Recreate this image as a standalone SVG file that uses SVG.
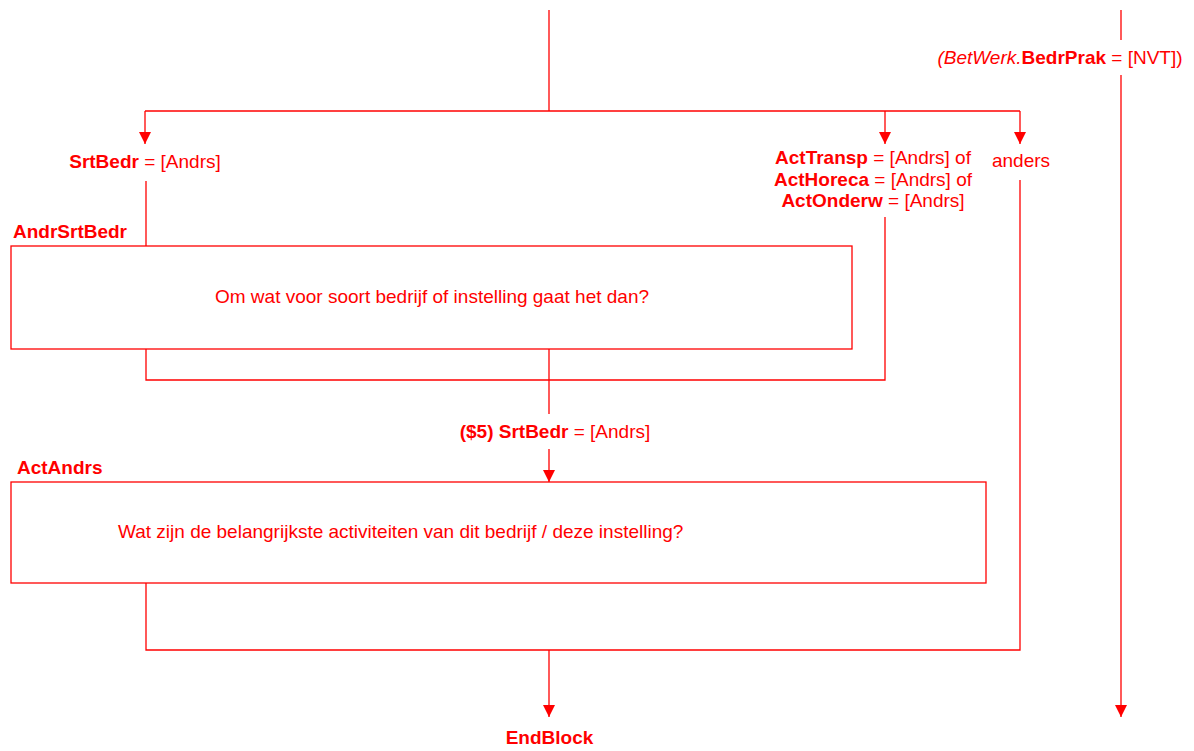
<svg xmlns="http://www.w3.org/2000/svg" width="1194" height="751" viewBox="0 0 1194 751">
<defs>
<marker id="ah" markerWidth="12" markerHeight="12" viewBox="0 0 12 12" refX="12" refY="6" orient="auto" markerUnits="userSpaceOnUse">
<path d="M0,0 L12,6 L0,12 Z" fill="#ff0000"/>
</marker>
<style>
.ln{stroke:#ff0000;stroke-width:1.3;fill:none}
.bx{stroke:#ff0000;stroke-width:1.3;fill:#ffffff}
text{font-family:"Liberation Sans",Arial,sans-serif;font-size:19px;fill:#ff0000}
.b{font-weight:bold}
.i{font-style:italic}
</style>
</defs>
<rect width="1194" height="751" fill="#ffffff"/>
<g id="connectors">
<path class="ln" d="M549,10 V111"/>
<path class="ln" d="M145,111 H1020"/>
<path class="ln" d="M145,111 V144" marker-end="url(#ah)"/>
<path class="ln" d="M885,111 V144" marker-end="url(#ah)"/>
<path class="ln" d="M1020,111 V144" marker-end="url(#ah)"/>
<path class="ln" d="M1121,10 V40"/>
<path class="ln" d="M1121,75 V717" marker-end="url(#ah)"/>
<path class="ln" d="M146,181 V246"/>
<path class="ln" d="M885,217 V380 H146 V349"/>
<path class="ln" d="M549,349 V414"/>
<path class="ln" d="M549,449 V482" marker-end="url(#ah)"/>
<path class="ln" d="M1020,180 V650 H146 V583"/>
<path class="ln" d="M549,650 V717" marker-end="url(#ah)"/>
</g>
<g id="cond-nvt"><text x="1060" y="64" text-anchor="middle"><tspan class="i">(BetWerk.</tspan><tspan class="b">BedrPrak</tspan> = [NVT])</text></g>
<g id="cond-srtbedr"><text x="145" y="168" text-anchor="middle"><tspan class="b">SrtBedr</tspan> = [Andrs]</text></g>
<g id="cond-act">
<text x="873" y="164" text-anchor="middle"><tspan class="b">ActTransp</tspan> = [Andrs] of</text>
<text x="873" y="185.5" text-anchor="middle"><tspan class="b">ActHoreca</tspan> = [Andrs] of</text>
<text x="873" y="207" text-anchor="middle"><tspan class="b">ActOnderw</tspan> = [Andrs]</text>
</g>
<g id="cond-anders"><text x="1021" y="167" text-anchor="middle">anders</text></g>
<g id="AndrSrtBedr">
<text x="13" y="238" class="b">AndrSrtBedr</text>
<rect class="bx" x="11" y="246" width="841" height="103"/>
<text x="432" y="303" text-anchor="middle">Om wat voor soort bedrijf of instelling gaat het dan?</text>
</g>
<g id="cond-5"><text x="555" y="438" text-anchor="middle"><tspan class="b">($5) SrtBedr</tspan> = [Andrs]</text></g>
<g id="ActAndrs">
<text x="17" y="474" class="b">ActAndrs</text>
<rect class="bx" x="11" y="482" width="975" height="101"/>
<text x="118" y="538">Wat zijn de belangrijkste activiteiten van dit bedrijf / deze instelling?</text>
</g>
<g id="EndBlock"><text x="549.5" y="744" text-anchor="middle" class="b">EndBlock</text></g>
</svg>
